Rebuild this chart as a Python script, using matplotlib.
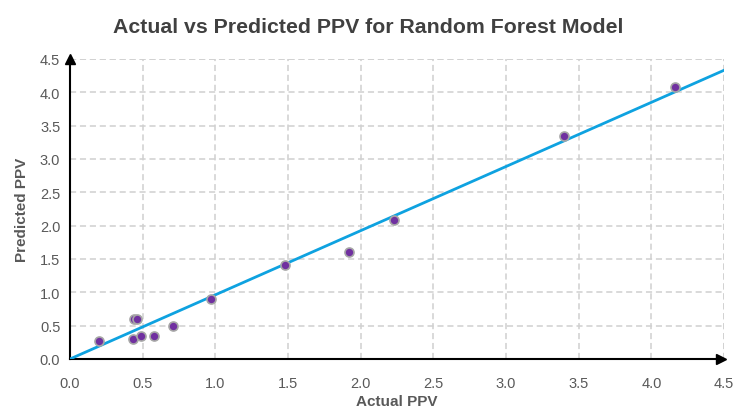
import numpy as np
import matplotlib
matplotlib.use('Agg')
import matplotlib.pyplot as plt

# Data
actual_ppv = [0.20, 0.43, 0.44, 0.46, 0.49, 0.58, 0.71, 0.97, 1.48, 1.92, 2.23, 3.40, 4.16]
predicted_ppv = [0.27, 0.30, 0.60, 0.60, 0.34, 0.34, 0.50, 0.90, 1.41, 1.61, 2.08, 3.35, 4.08]
fit_slope = 0.962  # trend line through the origin
ticks = [0.0, 0.5, 1.0, 1.5, 2.0, 2.5, 3.0, 3.5, 4.0, 4.5]

plt.rcParams['font.family'] = ['Liberation Sans', 'DejaVu Sans']
text_grey = '#595959'

fig = plt.figure(figsize=(7.37, 4.10), dpi=100)
ax = fig.add_axes([0.095, 0.122, 0.8874, 0.732])

# Trend line
fit_x = np.array([0, 4.5])
ax.plot(fit_x, fit_slope * fit_x, color='#0EA2E0', linewidth=2, zorder=3)

# Points
ax.scatter(actual_ppv, predicted_ppv, s=42, color='#7030A0', edgecolors='#A6A6A6',
           linewidths=1.2, zorder=4)

ax.set_xlim(0, 4.5)
ax.set_ylim(0, 4.5)
ax.set_xticks(ticks)
ax.set_yticks(ticks)
ax.set_xticklabels([f'{t:.1f}' for t in ticks])
ax.set_yticklabels([f'{t:.1f}' for t in ticks])
ax.tick_params(length=0, labelsize=10.5, colors=text_grey)
ax.tick_params(axis='x', pad=12)
ax.tick_params(axis='y', pad=7)
ax.grid(True, color='#D0D0D0', linestyle=(0, (4, 2.5)), linewidth=1.1)
ax.axvline(4.5, color='#D0D0D0', linestyle=(0, (4, 2.5)), linewidth=1.1)
ax.axhline(4.5, color='#D0D0D0', linestyle=(0, (4, 2.5)), linewidth=1.1)
ax.set_axisbelow(True)

for side in ['top', 'right']:
    ax.spines[side].set_visible(False)
for side in ['left', 'bottom']:
    ax.spines[side].set_color('black')
    ax.spines[side].set_linewidth(1.5)

# Arrow heads on the axes
ax.plot(0.996, 0, marker='>', color='black', markersize=7, transform=ax.transAxes, clip_on=False)
ax.plot(0, 1.0, marker='^', color='black', markersize=7, transform=ax.transAxes, clip_on=False)

ax.set_xlabel('Actual PPV', fontsize=11, fontweight='bold', color=text_grey, labelpad=3)
ax.set_ylabel('Predicted PPV', fontsize=11, fontweight='bold', color=text_grey, labelpad=8)
fig.text(0.5, 0.933, 'Actual vs Predicted PPV for Random Forest Model', ha='center',
         va='center', fontsize=15.3, fontweight='bold', color='#404040')

fig.savefig('out.png', dpi=100)
